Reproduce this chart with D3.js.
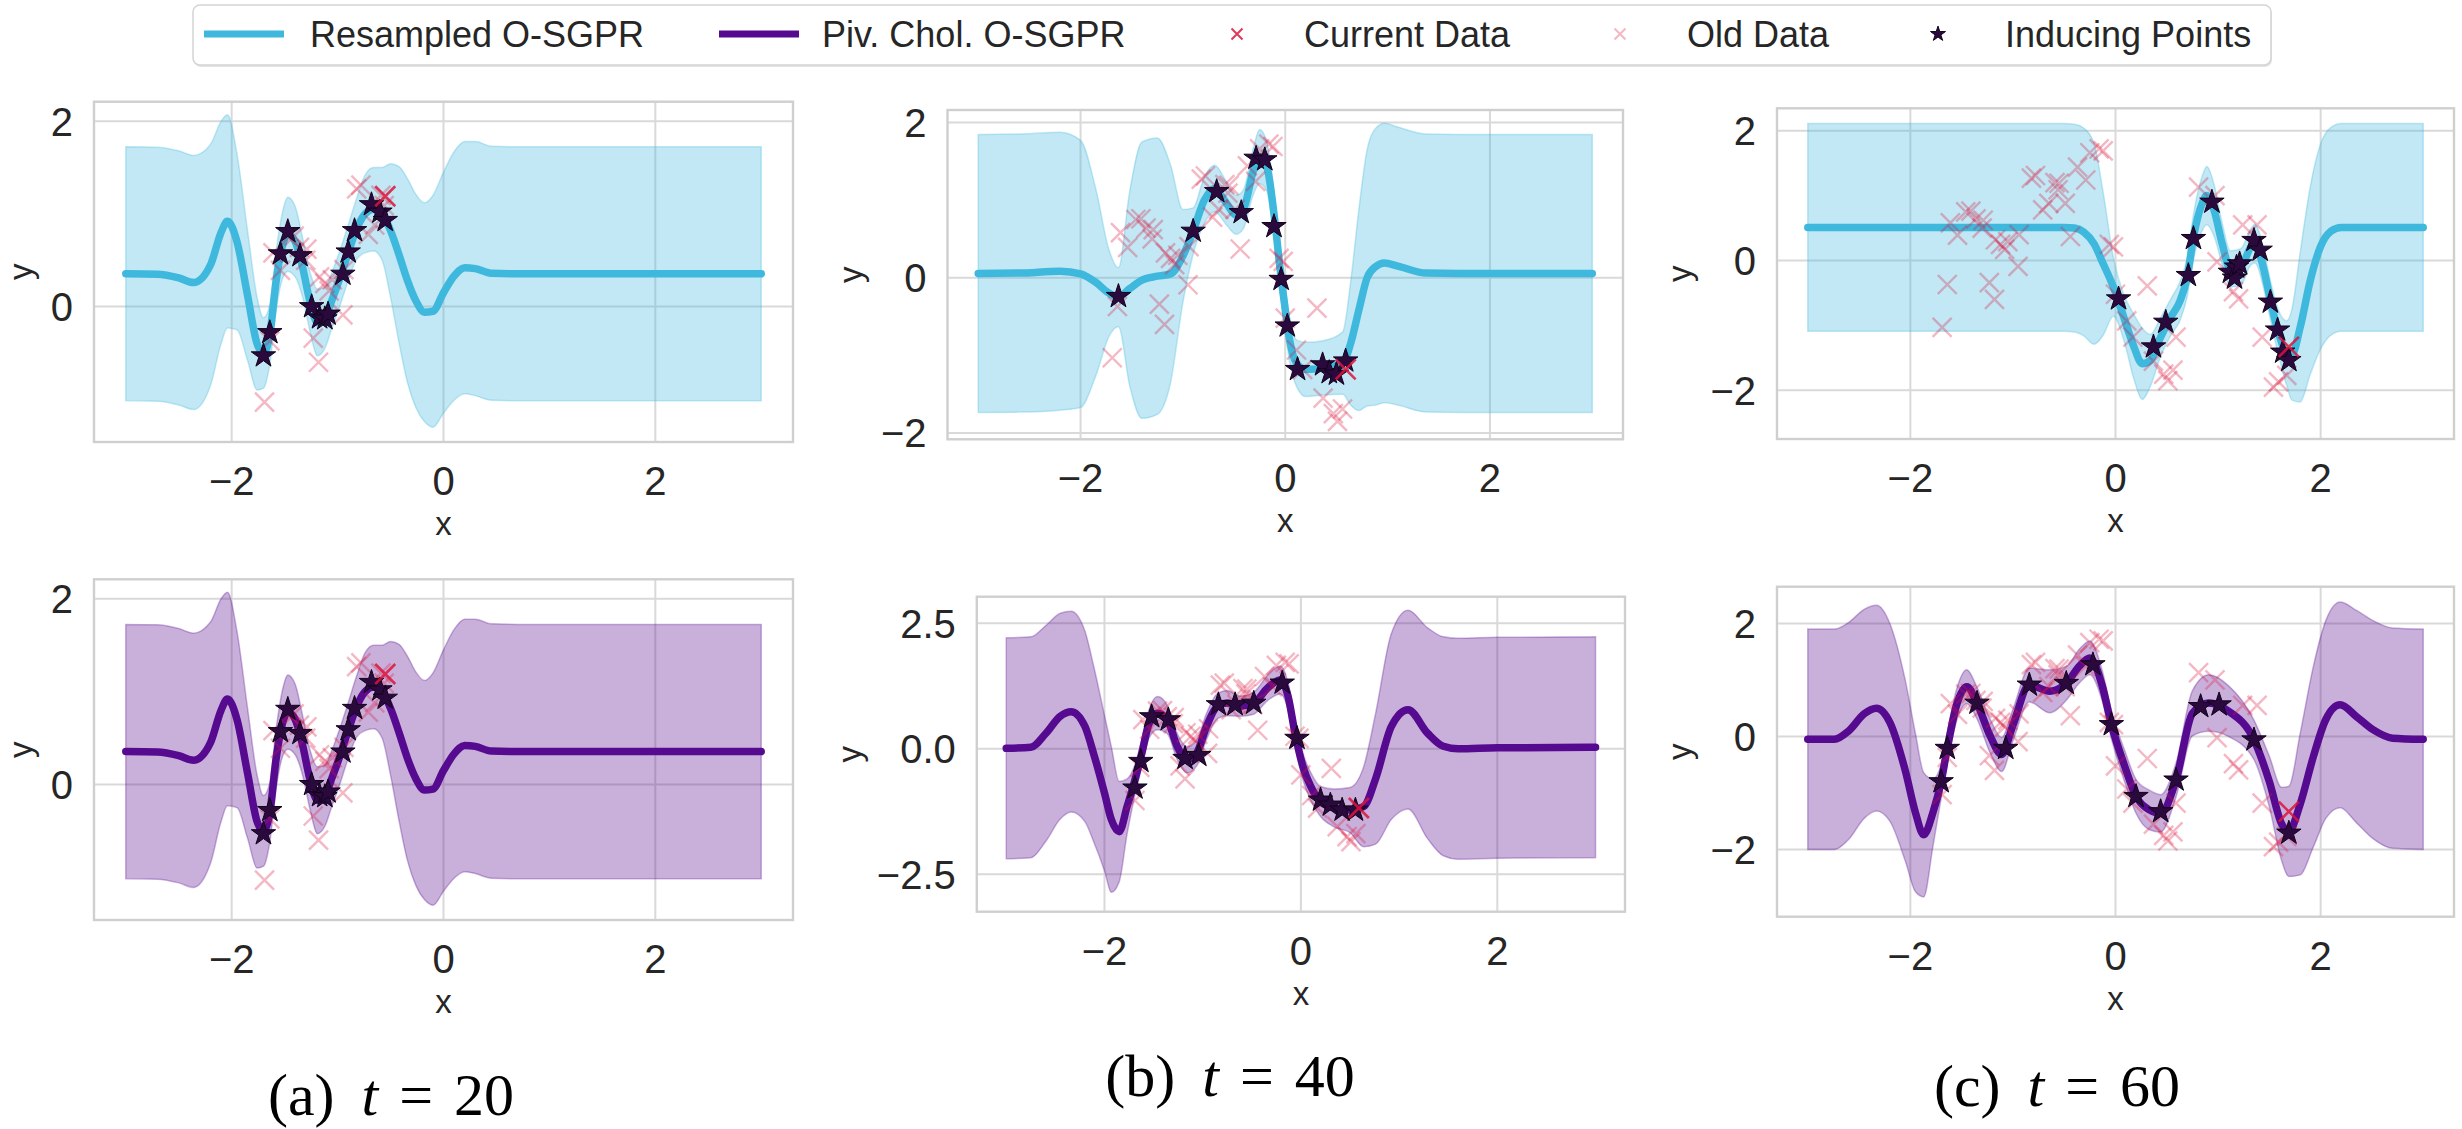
<!DOCTYPE html>
<html>
<head>
<meta charset="utf-8">
<script src="https://cdn.jsdelivr.net/npm/d3@7"></script>
<style>
  html, body { margin: 0; padding: 0; background: #ffffff; }
  svg text { font-family: "Liberation Sans", Arial, sans-serif; fill: #262626; }
  .caption { font-family: "Liberation Serif", "Times New Roman", serif; fill: #000; }
</style>
</head>
<body>
<svg id="fig" width="2462" height="1129"></svg>
<script>
// ---------------------------------------------------------------------------
// Posterior of the online sparse GP regressors at three time steps.
// Each posterior is given by its predictive mean and the half-width of the
// shaded (two standard deviation) band, read on a per-panel grid of x values.
// ---------------------------------------------------------------------------

// t = 20 (both models have seen the same stream and coincide)
const gridT20 = [-3, -2.7, -2.5, -2.36, -2.2, -2.1, -2.04, -1.95, -1.85, -1.76, -1.70, -1.64, -1.58, -1.52, -1.47, -1.40, -1.33, -1.26, -1.19, -1.12, -1.05, -0.98, -0.90, -0.82, -0.74, -0.66, -0.58, -0.50, -0.42, -0.34, -0.26, -0.18, -0.10, 0.0, 0.1, 0.2, 0.3, 0.45, 0.7, 3];
const meanT20 = [0.354, 0.35, 0.31, 0.26, 0.45, 0.80, 0.92, 0.70, 0.12, -0.40, -0.50, -0.30, 0.28, 0.66, 0.78, 0.70, 0.42, 0.05, -0.17, -0.12, 0.08, 0.30, 0.58, 0.84, 1.00, 1.05, 1.00, 0.82, 0.56, 0.28, 0.06, -0.06, -0.05, 0.15, 0.33, 0.42, 0.41, 0.36, 0.354, 0.354];
const bandT20 = [1.37, 1.37, 1.37, 1.37, 1.30, 1.20, 1.15, 0.95, 0.70, 0.50, 0.38, 0.32, 0.32, 0.36, 0.40, 0.38, 0.32, 0.32, 0.36, 0.33, 0.30, 0.30, 0.30, 0.33, 0.42, 0.45, 0.50, 0.72, 0.95, 1.10, 1.15, 1.18, 1.25, 1.30, 1.34, 1.36, 1.37, 1.37, 1.37, 1.37];

// t = 40, resampled O-SGPR
const gridT40Resampled = [-3, -2.6, -2.2, -2.0, -1.85, -1.72, -1.63, -1.52, -1.4, -1.25, -1.12, -1.0, -0.9, -0.79, -0.69, -0.58, -0.48, -0.41, -0.31, -0.25, -0.18, -0.10, -0.05, 0.0, 0.04, 0.11, 0.20, 0.37, 0.56, 0.64, 0.72, 0.80, 0.88, 0.97, 1.1, 1.38, 1.7, 3];
const meanT40Resampled = [0.056, 0.06, 0.085, 0.05, -0.06, -0.2, -0.25, -0.14, -0.03, 0.02, 0.05, 0.28, 0.60, 1.00, 1.15, 0.97, 0.81, 0.88, 1.38, 1.56, 1.43, 0.71, 0.11, -0.41, -0.78, -1.10, -1.18, -1.16, -1.10, -0.84, -0.41, 0.0, 0.14, 0.19, 0.15, 0.06, 0.056, 0.056];
const bandT40Resampled = [1.79, 1.79, 1.79, 1.72, 1.2, 0.55, 0.38, 1.25, 1.78, 1.78, 1.4, 0.6, 0.3, 0.3, 0.3, 0.28, 0.25, 0.25, 0.3, 0.35, 0.32, 0.28, 0.28, 0.28, 0.28, 0.3, 0.35, 0.35, 0.4, 0.8, 1.3, 1.65, 1.78, 1.8, 1.79, 1.79, 1.79, 1.79];

// t = 40, pivoted-Cholesky O-SGPR
const gridT40Chol = [-3, -2.75, -2.6, -2.45, -2.34, -2.2, -2.11, -2.0, -1.93, -1.85, -1.77, -1.69, -1.62, -1.55, -1.46, -1.36, -1.26, -1.16, -1.06, -0.96, -0.85, -0.75, -0.62, -0.48, -0.34, -0.21, -0.13, -0.06, 0.02, 0.10, 0.20, 0.34, 0.50, 0.64, 0.76, 0.92, 1.09, 1.29, 1.45, 1.6, 2.0, 3];
const meanT40Chol = [0.01, 0.03, 0.3, 0.65, 0.74, 0.45, -0.1, -0.88, -1.41, -1.65, -1.15, -0.62, -0.09, 0.48, 0.71, 0.58, 0.05, -0.22, -0.08, 0.45, 0.85, 0.91, 0.85, 0.91, 1.21, 1.37, 1.04, 0.31, -0.35, -0.75, -1.05, -1.18, -1.22, -1.15, -0.6, 0.44, 0.78, 0.31, 0.05, 0.0, 0.02, 0.03];
const bandT40Chol = [2.2, 2.2, 2.15, 2.05, 2.0, 1.9, 1.75, 1.55, 1.45, 1.0, 0.55, 0.3, 0.27, 0.28, 0.33, 0.28, 0.26, 0.26, 0.26, 0.26, 0.25, 0.25, 0.2, 0.22, 0.25, 0.28, 0.27, 0.26, 0.26, 0.28, 0.3, 0.38, 0.45, 0.8, 1.3, 1.85, 1.98, 2.1, 2.18, 2.2, 2.2, 2.2];

// t = 60, resampled O-SGPR
const gridT60Resampled = [-3, -0.5, -0.4, -0.31, -0.21, -0.12, -0.02, 0.08, 0.18, 0.26, 0.34, 0.44, 0.54, 0.63, 0.70, 0.76, 0.845, 0.89, 0.96, 1.04, 1.12, 1.22, 1.32, 1.36, 1.44, 1.51, 1.59, 1.67, 1.72, 1.80, 1.90, 2.0, 2.1, 2.2, 3];
const meanT60Resampled = [0.51, 0.51, 0.50, 0.44, 0.26, -0.05, -0.41, -0.87, -1.33, -1.59, -1.54, -1.18, -0.87, -0.62, -0.25, 0.36, 0.88, 1.0, 0.78, 0.26, -0.13, -0.10, 0.21, 0.26, -0.10, -0.61, -1.12, -1.43, -1.45, -1.03, -0.30, 0.22, 0.45, 0.51, 0.51];
const bandT60Resampled = [1.6, 1.6, 1.6, 1.6, 1.55, 1.1, 0.45, 0.35, 0.5, 0.55, 0.4, 0.3, 0.28, 0.3, 0.3, 0.35, 0.42, 0.45, 0.4, 0.32, 0.28, 0.28, 0.28, 0.3, 0.3, 0.3, 0.35, 0.5, 0.7, 1.15, 1.45, 1.58, 1.6, 1.6, 1.6];

// t = 60, pivoted-Cholesky O-SGPR
const gridT60Chol = [-3, -2.74, -2.6, -2.45, -2.33, -2.2, -2.05, -1.95, -1.87, -1.78, -1.70, -1.64, -1.55, -1.45, -1.35, -1.22, -1.11, -1.0, -0.84, -0.64, -0.48, -0.35, -0.25, -0.13, -0.04, 0.09, 0.2, 0.33, 0.44, 0.59, 0.75, 0.91, 1.1, 1.35, 1.5, 1.62, 1.69, 1.8, 1.93, 2.05, 2.19, 2.35, 2.51, 2.7, 3];
const meanT60Chol = [-0.05, -0.05, 0.1, 0.4, 0.5, 0.25, -0.6, -1.35, -1.74, -1.35, -0.8, -0.21, 0.55, 0.88, 0.59, 0.0, -0.32, 0.2, 0.91, 0.8, 0.94, 1.25, 1.39, 0.9, 0.21, -0.53, -1.06, -1.3, -1.36, -0.77, 0.41, 0.59, 0.45, -0.06, -0.8, -1.55, -1.68, -1.2, -0.35, 0.3, 0.56, 0.35, 0.12, -0.03, -0.05];
const bandT60Chol = [1.95, 1.95, 1.92, 1.85, 1.82, 1.75, 1.6, 1.4, 1.1, 0.6, 0.3, 0.27, 0.28, 0.3, 0.28, 0.3, 0.3, 0.28, 0.3, 0.38, 0.3, 0.3, 0.3, 0.27, 0.25, 0.28, 0.3, 0.35, 0.33, 0.3, 0.4, 0.5, 0.45, 0.35, 0.45, 0.65, 0.8, 1.25, 1.6, 1.75, 1.82, 1.88, 1.93, 1.95, 1.95];

// Stream of observations (x, y), in arrival order; a point is "old" once a later batch is current.
const observedX = [-1.69, -1.64, -1.61, -1.54, -1.46, -1.41, -1.36, -1.30, -1.29, -1.23, -1.18, -1.17, -1.12, -1.08, -1.05, -0.95, -0.94, -0.82, -0.78, -0.71, -0.65, -0.59, -0.56, -0.55,
                   -0.49, -0.44, -0.37, -0.29, -0.25, -0.16, -0.12, -0.06, -0.02, 0.0, 0.11, 0.17, 0.31, 0.37, 0.47, 0.51, 0.56, 0.59,
                   0.81, 0.97, 0.99, 1.15, 1.20, 1.24, 1.38, 1.43, 1.54, 1.59, 1.67, 1.69];
const observedY = [-1.03, -0.37, 0.58, 0.39, 0.75, 0.76, 0.64, 0.50, 0.62, -0.34, -0.60, 0.32, 0.25, 0.17, 0.29, -0.09, 0.40, 1.27, 1.31, 0.78, 0.88, 1.20, 1.09, 1.19,
                   0.88, 0.37, 1.44, 1.24, 1.66, 1.72, 1.69, 0.25, 0.21, -0.52, -0.93, -1.18, -0.39, -1.55, -1.75, -1.85, -1.69, -1.18,
                   1.13, 1.0, -0.02, -0.48, -0.59, 0.55, 0.55, -1.18, -1.95, -1.87, -1.77, -1.33];

// Current batch at each time step
const currentT20 = [[-0.55, 1.19]];
const currentT40 = [[0.59, -1.18]];
const currentT60 = [[1.69, -1.33]];

// Inducing point locations of each model
const inducingT20 = [[-1.70, -0.53], [-1.64, -0.28], [-1.54, 0.57], [-1.47, 0.81], [-1.355, 0.55], [-1.245, 0.0], [-1.17, -0.12], [-1.12, -0.13], [-1.09, -0.08], [-0.95, 0.35], [-0.90, 0.59], [-0.84, 0.82], [-0.68, 1.10], [-0.60, 1.02], [-0.55, 0.93]];
const inducingT40Resampled = [[-1.63, -0.24], [-0.90, 0.60], [-0.67, 1.11], [-0.43, 0.84], [-0.285, 1.54], [-0.20, 1.52], [-0.11, 0.66], [-0.04, -0.02], [0.02, -0.62], [0.12, -1.18], [0.365, -1.12], [0.43, -1.22], [0.50, -1.24], [0.59, -1.07]];
const inducingT40Chol = [[-1.69, -0.78], [-1.63, -0.25], [-1.52, 0.64], [-1.35, 0.58], [-1.18, -0.19], [-1.04, -0.13], [-0.84, 0.88], [-0.67, 0.88], [-0.48, 0.91], [-0.19, 1.31], [-0.04, 0.21], [0.20, -1.02], [0.30, -1.12], [0.42, -1.22], [0.555, -1.22]];
const inducingT60Resampled = [[0.03, -0.59], [0.37, -1.33], [0.49, -0.95], [0.71, -0.23], [0.76, 0.34], [0.94, 0.90], [1.12, -0.18], [1.16, -0.27], [1.18, -0.10], [1.21, -0.05], [1.35, 0.31], [1.41, 0.16], [1.51, -0.64], [1.58, -1.07], [1.63, -1.41], [1.69, -1.54]];
const inducingT60Chol = [[-1.70, -0.80], [-1.64, -0.21], [-1.35, 0.59], [-1.07, -0.21], [-0.84, 0.91], [-0.48, 0.94], [-0.22, 1.27], [-0.04, 0.21], [0.20, -1.06], [0.44, -1.33], [0.59, -0.77], [0.83, 0.53], [1.01, 0.56], [1.35, -0.06], [1.69, -1.71]];

// Axis ticks
const xTickValues = [-2, 0, 2];
const yTicksT20 = [0, 2];
const yTicksT40Resampled = [-2, 0, 2];
const yTicksT40Chol = [-2.5, 0, 2.5];
const yTicksT60 = [-2, 0, 2];

// Legend entries and sub-figure captions
const legendLabels = ["Resampled O-SGPR", "Piv. Chol. O-SGPR", "Current Data", "Old Data", "Inducing Points"];
const captionLetters = ["(a)", "(b)", "(c)"];
const captionSteps = [20, 40, 60];

// ---------------------------------------------------------------------------
const COLORS = {
  resampled: "#3fb8dd",
  chol: "#560a8f",
  data: "#dc143c",
  star: "#2a0a3d",
  grid: "#d9d9d9",
  spine: "#cfcfcf"
};
const svg = d3.select("#fig");
const xDomain = [-3.3, 3.3];

const panels = [
  { model: "resampled", grid: gridT20, mean: meanT20, band: bandT20, current: currentT20, inducing: inducingT20,
    frame: [94, 101.7, 793, 442], yDomain: [-1.46, 2.21], yTicks: yTicksT20, yFmt: d3.format("d"), yLabelGap: 62 },
  { model: "chol", grid: gridT20, mean: meanT20, band: bandT20, current: currentT20, inducing: inducingT20,
    frame: [94, 579.3, 793, 920], yDomain: [-1.46, 2.21], yTicks: yTicksT20, yFmt: d3.format("d"), yLabelGap: 62 },
  { model: "resampled", grid: gridT40Resampled, mean: meanT40Resampled, band: bandT40Resampled, current: currentT40, inducing: inducingT40Resampled,
    frame: [947.5, 110, 1623, 439.3], yDomain: [-2.08, 2.16], yTicks: yTicksT40Resampled, yFmt: d3.format("d"), yLabelGap: 86 },
  { model: "chol", grid: gridT40Chol, mean: meanT40Chol, band: bandT40Chol, current: currentT40, inducing: inducingT40Chol,
    frame: [976.8, 596.7, 1625, 911.7], yDomain: [-3.245, 3.03], yTicks: yTicksT40Chol, yFmt: d3.format(".1f"), yLabelGap: 116 },
  { model: "resampled", grid: gridT60Resampled, mean: meanT60Resampled, band: bandT60Resampled, current: currentT60, inducing: inducingT60Resampled,
    frame: [1777, 108.3, 2454, 439], yDomain: [-2.75, 2.345], yTicks: yTicksT60, yFmt: d3.format("d"), yLabelGap: 86 },
  { model: "chol", grid: gridT60Chol, mean: meanT60Chol, band: bandT60Chol, current: currentT60, inducing: inducingT60Chol,
    frame: [1777, 586.7, 2454, 916.7], yDomain: [-3.19, 2.65], yTicks: yTicksT60, yFmt: d3.format("d"), yLabelGap: 86 }
];

const xMarkPath = r => `M${-r},${-r}L${r},${r}M${-r},${r}L${r},${-r}`;
const starPath = d3.symbol(d3.symbolStar, 185)();

function drawPanel(p, idx) {
  const [x0, y0, x1, y1] = p.frame;
  const x = d3.scaleLinear().domain(xDomain).range([x0, x1]);
  const y = d3.scaleLinear().domain(p.yDomain).range([y1, y0]);
  const color = COLORS[p.model];
  const g = svg.append("g");

  const clipId = "clip" + idx;
  g.append("clipPath").attr("id", clipId)
    .append("rect").attr("x", x0).attr("y", y0).attr("width", x1 - x0).attr("height", y1 - y0);

  // grid
  g.append("g").selectAll("line").data(xTickValues).join("line")
    .attr("x1", d => x(d)).attr("x2", d => x(d)).attr("y1", y0).attr("y2", y1)
    .attr("stroke", COLORS.grid).attr("stroke-width", 2);
  g.append("g").selectAll("line").data(p.yTicks).join("line")
    .attr("x1", x0).attr("x2", x1).attr("y1", d => y(d)).attr("y2", d => y(d))
    .attr("stroke", COLORS.grid).attr("stroke-width", 2);

  const rows = p.grid.map((gx, i) => ({ x: gx, m: p.mean[i], h: p.band[i] }));
  const plot = g.append("g").attr("clip-path", `url(#${clipId})`);

  // confidence band
  plot.append("path").datum(rows)
    .attr("d", d3.area().curve(d3.curveMonotoneX)
      .x(d => x(d.x)).y0(d => y(d.m - d.h)).y1(d => y(d.m + d.h)))
    .attr("fill", color).attr("fill-opacity", 0.32)
    .attr("stroke", color).attr("stroke-opacity", 0.3).attr("stroke-width", 1.5);

  // predictive mean
  plot.append("path").datum(rows)
    .attr("d", d3.line().curve(d3.curveMonotoneX).x(d => x(d.x)).y(d => y(d.m)))
    .attr("fill", "none").attr("stroke", color).attr("stroke-width", 7.5)
    .attr("stroke-linecap", "round").attr("stroke-linejoin", "round");

  // old data
  const cutoff = p.current[0][0];
  const old = observedX.map((ox, i) => [ox, observedY[i]]).filter(d => d[0] < cutoff);
  plot.append("g").selectAll("path").data(old).join("path")
    .attr("transform", d => `translate(${x(d[0])},${y(d[1])})`)
    .attr("d", xMarkPath(9.5))
    .attr("stroke", COLORS.data).attr("stroke-opacity", 0.3).attr("stroke-width", 2.4).attr("fill", "none");

  // inducing points
  plot.append("g").selectAll("path").data(p.inducing).join("path")
    .attr("transform", d => `translate(${x(d[0])},${y(d[1])})`)
    .attr("d", starPath)
    .attr("fill", COLORS.star).attr("stroke", "#12031c").attr("stroke-width", 1);

  // current batch
  plot.append("g").selectAll("path").data(p.current).join("path")
    .attr("transform", d => `translate(${x(d[0])},${y(d[1])})`)
    .attr("d", xMarkPath(10))
    .attr("stroke", COLORS.data).attr("stroke-opacity", 0.85).attr("stroke-width", 2.6).attr("fill", "none");

  // frame
  g.append("rect").attr("x", x0).attr("y", y0).attr("width", x1 - x0).attr("height", y1 - y0)
    .attr("fill", "none").attr("stroke", COLORS.spine).attr("stroke-width", 2.4);

  // tick labels
  g.append("g").selectAll("text").data(xTickValues).join("text")
    .attr("x", d => x(d)).attr("y", y1 + 53)
    .attr("text-anchor", "middle").attr("font-size", 40)
    .text(d => d3.format("d")(d));
  g.append("g").selectAll("text").data(p.yTicks).join("text")
    .attr("x", x0 - 21).attr("y", d => y(d)).attr("dy", "0.36em")
    .attr("text-anchor", "end").attr("font-size", 40)
    .text(d => p.yFmt(d));

  // axis labels
  g.append("text").attr("x", (x0 + x1) / 2).attr("y", y1 + 93)
    .attr("text-anchor", "middle").attr("font-size", 33).text("x");
  const ly = (y0 + y1) / 2, lx = x0 - p.yLabelGap;
  g.append("text").attr("transform", `translate(${lx},${ly}) rotate(-90)`)
    .attr("text-anchor", "middle").attr("font-size", 33).text("y");
}

panels.forEach(drawPanel);

// ---------------------------------------------------------------------------
// legend
const legend = svg.append("g");
legend.append("rect").attr("x", 194).attr("y", 7).attr("width", 2078).attr("height", 60).attr("rx", 7)
  .attr("fill", "#e4e4e4");
legend.append("rect").attr("x", 193).attr("y", 5).attr("width", 2078).attr("height", 60).attr("rx", 7)
  .attr("fill", "#ffffff").attr("stroke", "#d4d4d4").attr("stroke-width", 1.5);

const ly = 34;
legend.append("line").attr("x1", 204).attr("x2", 284).attr("y1", ly).attr("y2", ly)
  .attr("stroke", COLORS.resampled).attr("stroke-width", 7);
legend.append("line").attr("x1", 719).attr("x2", 799).attr("y1", ly).attr("y2", ly)
  .attr("stroke", COLORS.chol).attr("stroke-width", 7);
legend.append("path").attr("transform", `translate(1237,${ly})`).attr("d", xMarkPath(5.5))
  .attr("stroke", COLORS.data).attr("stroke-opacity", 0.85).attr("stroke-width", 2).attr("fill", "none");
legend.append("path").attr("transform", `translate(1620,${ly})`).attr("d", xMarkPath(5.5))
  .attr("stroke", COLORS.data).attr("stroke-opacity", 0.3).attr("stroke-width", 2).attr("fill", "none");
legend.append("path").attr("transform", `translate(1938,${ly})`).attr("d", d3.symbol(d3.symbolStar, 70)())
  .attr("fill", COLORS.star).attr("stroke", "#12031c").attr("stroke-width", 1);

const legendTextX = [310, 822, 1304, 1687, 2005];
legend.selectAll("text.lab").data(legendLabels).join("text").attr("class", "lab")
  .attr("x", (d, i) => legendTextX[i]).attr("y", ly).attr("dy", "0.35em")
  .attr("font-size", 36).text(d => d);

// ---------------------------------------------------------------------------
// sub-figure captions
const captionPos = [[391, 1115], [1230, 1096], [2057, 1106]];
captionLetters.forEach((letter, i) => {
  const t = svg.append("text").attr("class", "caption")
    .attr("x", captionPos[i][0]).attr("y", captionPos[i][1])
    .attr("text-anchor", "middle").attr("font-size", 60);
  t.append("tspan").text(letter);
  t.append("tspan").attr("dx", "0.45em").attr("font-style", "italic").text("t");
  t.append("tspan").attr("dx", "0.35em").text("=");
  t.append("tspan").attr("dx", "0.35em").text(captionSteps[i]);
});
</script>
</body>
</html>
